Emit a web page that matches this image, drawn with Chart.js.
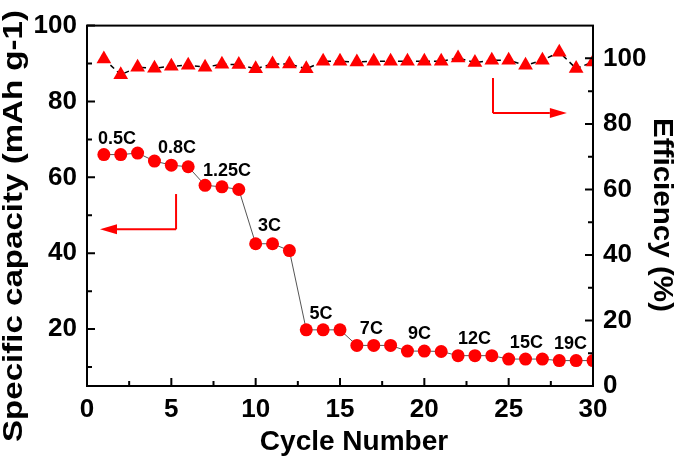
<!DOCTYPE html>
<html>
<head>
<meta charset="utf-8">
<script src="https://cdn.jsdelivr.net/npm/chart.js@4.4.0/dist/chart.umd.min.js"></script>
<style>
    body { margin: 0; background: #fff; }
    #wrap { width: 675px; height: 462px; }
</style>
</head>
<body>
<div id="wrap"><canvas id="rateChart" width="675" height="462"></canvas></div>
<script>
// cycle number for each measurement
const cycles = [1, 2, 3, 4, 5, 6, 7, 8, 9, 10, 11, 12, 13, 14, 15,
    16, 17, 18, 19, 20, 21, 22, 23, 24, 25, 26, 27, 28, 29, 30];
// specific capacity, mAh g-1 (left axis)
const capacity = [66.0, 66.0, 66.4, 64.3, 63.2, 62.8, 57.9, 57.5, 56.8, 42.5,
    42.5, 40.7, 19.8, 19.8, 19.8, 15.7, 15.7, 15.7, 14.2, 14.2,
    14.1, 13.0, 13.0, 13.0, 12.1, 12.1, 12.1, 11.7, 11.7, 11.7];
// coulombic efficiency, % (right axis)
const efficiency = [99.8, 95.0, 97.3, 97.0, 97.6, 97.9, 97.3, 98.2, 98.1, 96.8,
    98.3, 98.3, 96.8, 99.1, 99.1, 98.9, 99.1, 99.1, 99.1, 99.1,
    99.1, 100.1, 98.7, 99.4, 99.4, 97.9, 99.4, 101.9, 96.9, 98.9];

const xTicks = [0, 5, 10, 15, 20, 25, 30];
const leftTicks = [20, 40, 60, 80, 100];
const rightTicks = [0, 20, 40, 60, 80, 100];

// C-rate labels and where they sit (cycle, capacity)
const rateLabels = ['0.5C', '0.8C', '1.25C', '3C', '5C', '7C', '9C', '12C', '15C', '19C'];
const rateAt = [[1.78, 70.0], [5.33, 67.6], [8.3, 61.7], [10.82, 47.1], [13.87, 24.0],
    [16.86, 19.9], [19.71, 18.6], [22.97, 17.3], [26.05, 16.3], [28.66, 16.0]];

const fontFamily = '"Liberation Sans", Arial, sans-serif';

function drawArrow(ctx, x1, y1, x2, y2) {
    const ang = Math.atan2(y2 - y1, x2 - x1);
    const len = 17, half = 5;
    ctx.beginPath();
    ctx.moveTo(x1, y1);
    ctx.lineTo(x2 - Math.cos(ang) * len, y2 - Math.sin(ang) * len);
    ctx.stroke();
    ctx.beginPath();
    ctx.moveTo(x2, y2);
    ctx.lineTo(x2 - Math.cos(ang) * len - Math.sin(ang) * half, y2 - Math.sin(ang) * len + Math.cos(ang) * half);
    ctx.lineTo(x2 - Math.cos(ang) * len + Math.sin(ang) * half, y2 - Math.sin(ang) * len - Math.cos(ang) * half);
    ctx.closePath();
    ctx.fill();
}

function drawStretched(ctx, text, cx, cy, rot, length) {
    ctx.save();
    ctx.translate(cx, cy);
    ctx.rotate(rot);
    const w = ctx.measureText(text).width;
    ctx.scale(length / w, 1);
    ctx.fillText(text, 0, 0);
    ctx.restore();
}

const decorations = {
    id: 'decorations',
    afterDatasetsDraw(chart) {
        const ctx = chart.ctx;
        const a = chart.chartArea;
        const x = chart.scales.x, y = chart.scales.y, y1 = chart.scales.y1;
        ctx.save();

        // frame
        ctx.strokeStyle = '#000';
        ctx.lineWidth = 2;
        ctx.strokeRect(a.left, a.top, a.right - a.left, a.bottom - a.top);

        // inward ticks, major and minor
        ctx.beginPath();
        for (let v = 0; v <= 30; v += 2.5) {
            const px = x.getPixelForValue(v);
            const l = v % 5 === 0 ? 8 : 5;
            ctx.moveTo(px, a.bottom);
            ctx.lineTo(px, a.bottom - l);
        }
        for (let v = 10; v <= 100; v += 10) {
            const py = y.getPixelForValue(v);
            const l = v % 20 === 0 ? 8 : 5;
            ctx.moveTo(a.left, py);
            ctx.lineTo(a.left + l, py);
        }
        for (let v = 10; v <= 100; v += 10) {
            const py = y1.getPixelForValue(v);
            const l = v % 20 === 0 ? 8 : 5;
            ctx.moveTo(a.right, py);
            ctx.lineTo(a.right - l, py);
        }
        ctx.stroke();

        // arrows pointing to each axis
        ctx.strokeStyle = '#ff0000';
        ctx.fillStyle = '#ff0000';
        ctx.lineWidth = 2;
        const lx = x.getPixelForValue(5.28);
        ctx.beginPath();
        ctx.moveTo(lx, y.getPixelForValue(55.6));
        ctx.lineTo(lx, y.getPixelForValue(46.3));
        ctx.stroke();
        drawArrow(ctx, lx, y.getPixelForValue(46.3), x.getPixelForValue(0.77), y.getPixelForValue(46.3));
        const rx = x.getPixelForValue(24.07);
        ctx.beginPath();
        ctx.moveTo(rx, y1.getPixelForValue(94));
        ctx.lineTo(rx, y1.getPixelForValue(83.3));
        ctx.stroke();
        drawArrow(ctx, rx, y1.getPixelForValue(83.3), x.getPixelForValue(28.45), y1.getPixelForValue(83.3));

        // C-rate labels
        ctx.fillStyle = '#000';
        ctx.font = 'bold 18px ' + fontFamily;
        ctx.textAlign = 'center';
        ctx.textBaseline = 'middle';
        rateLabels.forEach(function(t, i) {
            ctx.fillText(t, x.getPixelForValue(rateAt[i][0]), y.getPixelForValue(rateAt[i][1]));
        });

        // axis titles
        ctx.font = 'bold 27px ' + fontFamily;
        drawStretched(ctx, 'Specific capacity (mAh g-1)', 15, 226, -Math.PI / 2, 432);
        drawStretched(ctx, 'Efficiency (%)', 661, 215, Math.PI / 2, 194);
        ctx.font = 'bold 28px ' + fontFamily;
        ctx.fillText('Cycle Number', 354, 442);

        ctx.restore();
    }
};

document.addEventListener('DOMContentLoaded', function() {
    const tickFont = { family: fontFamily, size: 26, weight: 'bold' };
    const capacityPoints = cycles.map(function(c, i) { return { x: c, y: capacity[i] }; });
    const efficiencyPoints = cycles.map(function(c, i) { return { x: c, y: efficiency[i] }; });

    new Chart(document.getElementById('rateChart'), {
        type: 'line',
        data: {
            datasets: [{
                label: 'Efficiency',
                data: efficiencyPoints,
                yAxisID: 'y1',
                borderColor: '#000',
                borderWidth: 1.5,
                borderDash: [5, 4],
                pointStyle: 'triangle',
                pointRadius: 8.5,
                pointBackgroundColor: '#ff0000',
                pointBorderColor: '#ff0000',
                pointBorderWidth: 0
            }, {
                label: 'Capacity',
                data: capacityPoints,
                yAxisID: 'y',
                borderColor: '#555',
                borderWidth: 1,
                pointStyle: 'circle',
                pointRadius: 6.5,
                pointBackgroundColor: '#ff0000',
                pointBorderColor: '#ff0000',
                pointBorderWidth: 0
            }]
        },
        options: {
            responsive: false,
            animation: false,
            devicePixelRatio: 1,
            layout: { padding: { top: 16, left: 0, right: 0, bottom: 0 } },
            plugins: { legend: { display: false }, tooltip: { enabled: false } },
            scales: {
                x: {
                    type: 'linear',
                    min: 0,
                    max: 30,
                    grid: { display: false, drawTicks: false },
                    border: { display: false },
                    afterBuildTicks: function(s) { s.ticks = xTicks.map(function(v) { return { value: v }; }); },
                    afterFit: function(s) { s.height = 76; },
                    ticks: { font: tickFont, color: '#000', padding: 8, maxRotation: 0, autoSkip: false }
                },
                y: {
                    type: 'linear',
                    position: 'left',
                    min: 5,
                    max: 100,
                    grid: { display: false, drawTicks: false },
                    border: { display: false },
                    afterBuildTicks: function(s) { s.ticks = leftTicks.map(function(v) { return { value: v }; }); },
                    afterFit: function(s) { s.width = 87; },
                    ticks: { font: tickFont, color: '#000', padding: 10 }
                },
                y1: {
                    type: 'linear',
                    position: 'right',
                    min: 0,
                    max: 110,
                    grid: { display: false, drawTicks: false },
                    border: { display: false },
                    afterBuildTicks: function(s) { s.ticks = rightTicks.map(function(v) { return { value: v }; }); },
                    afterFit: function(s) { s.width = 82; },
                    ticks: { font: tickFont, color: '#000', padding: 10 }
                }
            }
        },
        plugins: [decorations]
    });
});
</script>
</body>
</html>
